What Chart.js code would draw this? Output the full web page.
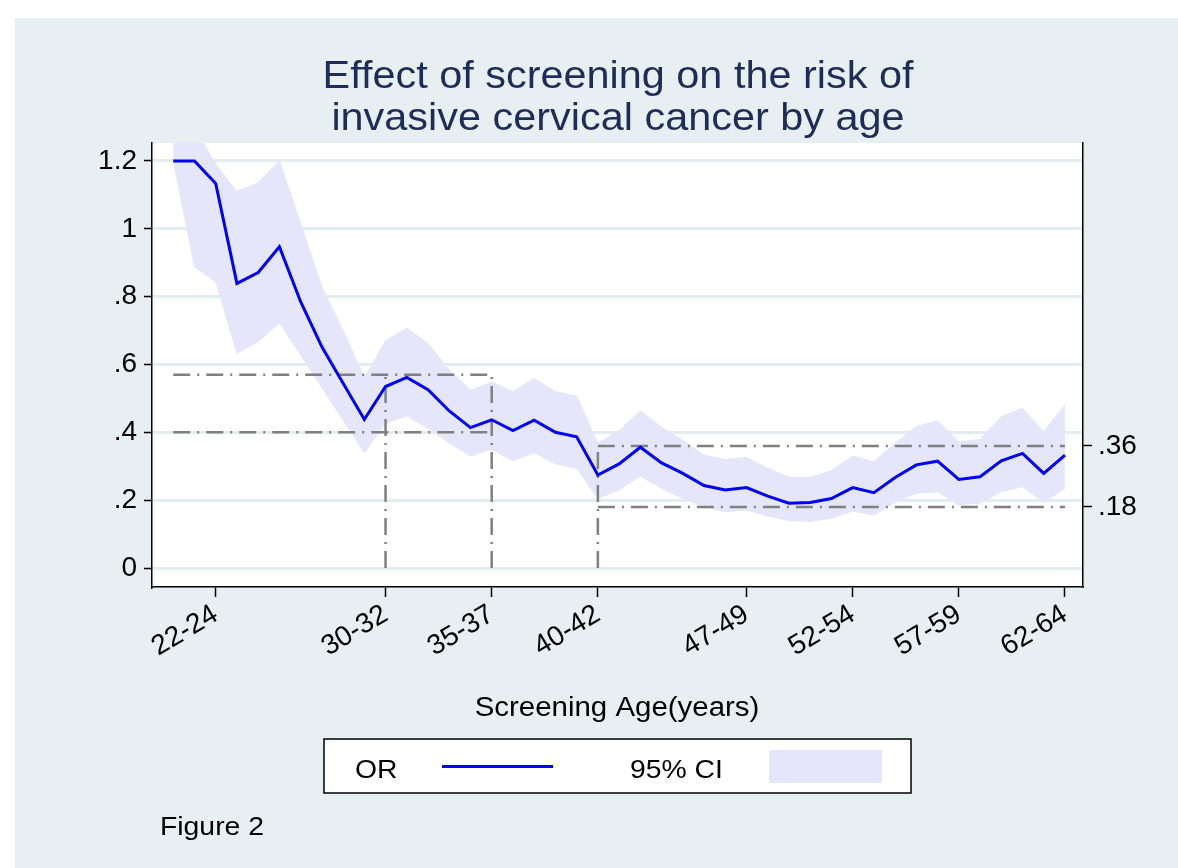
<!DOCTYPE html>
<html>
<head>
<meta charset="utf-8">
<title>Effect of screening by age</title>
<script src="https://cdn.jsdelivr.net/npm/chart.js@4.4.0/dist/chart.umd.min.js"></script>
<style>
    html, body { margin: 0; padding: 0; background: #fff; }
    #wrap { width: 1178px; height: 868px; position: relative; }
</style>
</head>
<body>
<div id="wrap"><canvas id="chart" width="1178" height="868"></canvas></div>
<script>
// screening age (start of 3-year band)
const ages = [20, 21, 22, 23, 24, 25, 26, 27, 28, 29, 30, 31, 32, 33, 34, 35, 36, 37, 38, 39, 40,
    41, 42, 43, 44, 45, 46, 47, 48, 49, 50, 51, 52, 53, 54, 55, 56, 57, 58, 59, 60, 61, 62];

// odds ratio
const orValues = [1.2, 1.2, 1.134, 0.839, 0.871, 0.947, 0.785, 0.652, 0.545, 0.438, 0.535,
    0.562, 0.526, 0.463, 0.414, 0.437, 0.405, 0.436, 0.400, 0.387, 0.274,
    0.307, 0.356, 0.310, 0.279, 0.243, 0.230, 0.237, 0.212, 0.191, 0.193,
    0.205, 0.237, 0.222, 0.267, 0.304, 0.315, 0.261, 0.269, 0.316, 0.338, 0.279, 0.333];

// 95% CI
const ciLower = [1.2, 0.888, 0.844, 0.633, 0.667, 0.723, 0.628, 0.532, 0.436, 0.34, 0.427,
    0.448, 0.412, 0.369, 0.33, 0.35, 0.316, 0.34, 0.307, 0.294, 0.205,
    0.23, 0.271, 0.235, 0.205, 0.181, 0.166, 0.171, 0.153, 0.14, 0.137,
    0.147, 0.168, 0.156, 0.193, 0.22, 0.225, 0.186, 0.191, 0.225, 0.24, 0.193, 0.235];
const ciUpper = [1.3, 1.3, 1.19, 1.11, 1.136, 1.2, 1.016, 0.829, 0.70, 0.56, 0.67,
    0.707, 0.662, 0.584, 0.524, 0.548, 0.52, 0.559, 0.52, 0.507, 0.368,
    0.405, 0.464, 0.415, 0.377, 0.333, 0.32, 0.326, 0.294, 0.268, 0.267,
    0.287, 0.33, 0.313, 0.368, 0.417, 0.434, 0.372, 0.379, 0.446, 0.471, 0.402, 0.481];

// axis ticks
const xTickAges = [22, 30, 35, 40, 47, 52, 57, 62];
const xTickLabels = ['22-24', '30-32', '35-37', '40-42', '47-49', '52-54', '57-59', '62-64'];
const yTicks = [0, 0.2, 0.4, 0.6, 0.8, 1, 1.2];
const yTickLabels = ['0', '.2', '.4', '.6', '.8', '1', '1.2'];
const rightTicks = [0.18, 0.36];
const rightTickLabels = ['.18', '.36'];

// reference lines
const refLevels = [0.57, 0.40, 0.36, 0.18];
const refFrom = [20, 20, 40, 40];
const refTo = [35, 35, 62, 62];
const vLineAges = [30, 35, 40];
const vLineTops = [0.57, 0.57, 0.36];

const FONT = '"Liberation Sans", Arial, sans-serif';
const BAND = '#e6e6fa';
const DASH = [17, 7, 2, 7];
const STRETCH = 1.09;   // le texte de l'original est un peu élargi

Chart.defaults.font.family = FONT;
Chart.defaults.color = '#000';

const toPoints = vals => ages.map((a, i) => ({ x: a, y: vals[i] }));

const datasets = [
    { label: 'lower', data: toPoints(ciLower), borderColor: BAND, borderWidth: 1, pointRadius: 0, fill: false, order: 3 },
    { label: '95% CI', data: toPoints(ciUpper), borderColor: BAND, borderWidth: 1, pointRadius: 0, fill: '-1', backgroundColor: BAND, order: 3 }
];

refLevels.forEach((lvl, i) => {
    datasets.push({
        label: 'ref',
        data: [{ x: refFrom[i], y: lvl }, { x: refTo[i], y: lvl }],
        borderColor: '#808080', borderWidth: 2.5, borderDash: DASH, pointRadius: 0, fill: false, order: 2
    });
});
vLineAges.forEach((a, i) => {
    datasets.push({
        label: 'ref',
        data: [{ x: a, y: 0 }, { x: a, y: vLineTops[i] }],
        borderColor: '#808080', borderWidth: 2.5, borderDash: DASH, pointRadius: 0, fill: false, order: 2
    });
});

datasets.push({ label: 'OR', data: toPoints(orValues), borderColor: '#0000ff', borderWidth: 3, pointRadius: 0, fill: false, order: 1 });

function wideText(ctx, text, x, y, align) {
    ctx.save();
    ctx.translate(x, y);
    ctx.scale(STRETCH, 1);
    ctx.textAlign = align;
    ctx.fillText(text, 0, 0);
    ctx.restore();
}

// fond, titre, légende
const decor = {
    id: 'decor',
    beforeDraw(chart) {
        const ctx = chart.ctx;
        const a = chart.chartArea;
        ctx.save();
        ctx.fillStyle = '#ffffff';
        ctx.fillRect(0, 0, chart.width, chart.height);
        ctx.fillStyle = '#e8eff2';
        ctx.fillRect(15, 18, chart.width - 15, chart.height - 18);
        ctx.fillStyle = '#ffffff';
        ctx.fillRect(a.left, a.top, a.right - a.left, a.bottom - a.top);
        ctx.restore();
    },
    afterDraw(chart) {
        const ctx = chart.ctx;
        ctx.save();
        ctx.textBaseline = 'alphabetic';
        ctx.fillStyle = '#1e2d58';
        ctx.font = '38px ' + FONT;
        wideText(ctx, 'Effect of screening on the risk of', 618, 88, 'center');
        wideText(ctx, 'invasive cervical cancer by age', 618, 130, 'center');

        ctx.fillStyle = '#000';
        ctx.font = '27px ' + FONT;
        wideText(ctx, 'Screening Age(years)', 617, 716, 'center');

        // légende
        ctx.fillStyle = '#fff';
        ctx.fillRect(324, 739, 587, 54);
        ctx.strokeStyle = '#000';
        ctx.lineWidth = 1.5;
        ctx.strokeRect(324, 739, 587, 54);
        ctx.fillStyle = '#000';
        ctx.font = '26px ' + FONT;
        wideText(ctx, 'OR', 355, 778, 'left');
        wideText(ctx, '95% CI', 630, 778, 'left');
        ctx.strokeStyle = '#0000ff';
        ctx.lineWidth = 3;
        ctx.beginPath();
        ctx.moveTo(442, 766.5);
        ctx.lineTo(553, 766.5);
        ctx.stroke();
        ctx.fillStyle = BAND;
        ctx.fillRect(769, 750, 113, 33);

        ctx.fillStyle = '#000';
        ctx.font = '26px ' + FONT;
        wideText(ctx, 'Figure 2', 160, 835, 'left');
        ctx.restore();
    }
};

new Chart(document.getElementById('chart'), {
    type: 'line',
    data: { datasets: datasets },
    options: {
        responsive: false,
        devicePixelRatio: 1,
        animation: false,
        layout: { padding: { top: 143, left: 0, right: 0, bottom: 0 } },
        plugins: {
            legend: { display: false },
            tooltip: { enabled: false },
            title: { display: false }
        },
        scales: {
            x: {
                type: 'linear',
                min: 19,
                max: 62.85,
                afterBuildTicks: axis => { axis.ticks = xTickAges.map(v => ({ value: v })); },
                afterFit: s => { s.height = 281; },
                ticks: {
                    autoSkip: false,
                    minRotation: 31,
                    maxRotation: 31,
                    padding: 1,
                    font: { size: 28 },
                    callback: v => xTickLabels[xTickAges.indexOf(v)]
                },
                grid: { drawOnChartArea: false, tickColor: '#000', tickLength: 10, tickWidth: 1.5 },
                border: { color: '#000', width: 1.5 }
            },
            y: {
                min: -0.056,
                max: 1.253,
                afterBuildTicks: axis => { axis.ticks = yTicks.map(v => ({ value: v })); },
                afterFit: s => { s.width = 152; },
                ticks: {
                    padding: 7,
                    font: { size: 28 },
                    callback: v => yTickLabels[yTicks.indexOf(v)]
                },
                grid: { color: '#e3ecef', lineWidth: 3, tickColor: '#000', tickLength: 8, tickWidth: 1.5 },
                border: { color: '#000', width: 1.5 }
            },
            y2: {
                position: 'right',
                min: -0.056,
                max: 1.253,
                afterBuildTicks: axis => { axis.ticks = rightTicks.map(v => ({ value: v })); },
                afterFit: s => { s.width = 95; },
                ticks: {
                    padding: 6,
                    font: { size: 28 },
                    callback: v => rightTickLabels[rightTicks.indexOf(v)]
                },
                grid: { drawOnChartArea: false, tickColor: '#000', tickLength: 9, tickWidth: 1.5 },
                border: { color: '#000', width: 1.5 }
            }
        }
    },
    plugins: [decor]
});
</script>
</body>
</html>
